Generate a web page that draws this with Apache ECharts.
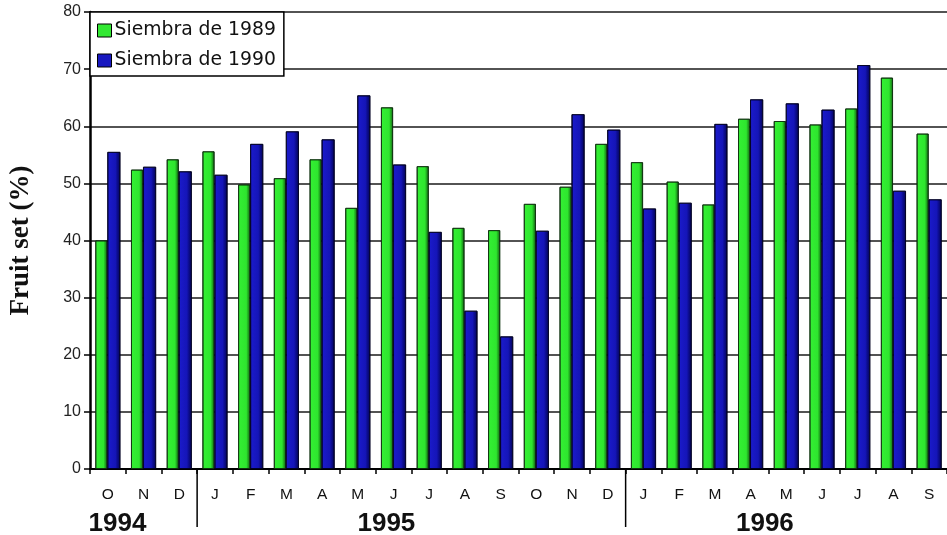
<!DOCTYPE html>
<html>
<head>
<meta charset="utf-8">
<script src="https://cdn.jsdelivr.net/npm/echarts@6/dist/echarts.min.js"></script>
<style>
html,body{margin:0;padding:0;background:#fff;}
#chart{width:947px;height:535px;}
</style>
</head>
<body>
<div id="chart"></div>
<script>
// ---- data ----
const months = ['O','N','D','J','F','M','A','M','J','J','A','S','O','N','D','J','F','M','A','M','J','J','A','S'];
const years = ['1994','1995','1996'];
const yearStartIndex = [0, 3, 15];
const seriesNames = ['Siembra de 1989','Siembra de 1990'];
const siembra1989 = [40.0,52.4,54.2,55.6,49.8,50.9,54.2,45.7,63.3,53.0,42.2,41.8,46.4,49.4,56.9,53.7,50.3,46.3,61.3,60.9,60.3,63.1,68.5,58.7];
const siembra1990 = [55.5,52.9,52.1,51.5,56.9,59.1,57.7,65.4,53.3,41.5,27.7,23.2,41.7,62.1,59.4,45.6,46.6,60.4,64.7,64.0,62.9,70.7,48.7,47.2];
const yTicks = {min:0, max:80, interval:10};

const catData = months.map((m, i) => i + ':' + m);

const chart = echarts.init(document.getElementById('chart'));

function grad(stops){
  return new echarts.graphic.LinearGradient(0,0,1,0, stops.map(s=>({offset:s[0], color:s[1]})));
}
const greenFill = grad([[0,'#1f9a1f'],[0.12,'#33ee33'],[0.68,'#2ee62e'],[0.8,'#22b022'],[1,'#156615']]);
const blueFill = grad([[0,'#0a0a70'],[0.12,'#1a1ac8'],[0.62,'#1515b8'],[0.78,'#0c0c8c'],[1,'#040450']]);

chart.setOption({
  animation:false,
  backgroundColor:'#ffffff',
  grid:{left:87, top:12, width:864, bottom:66, show:false},
  legend:{
    orient:'vertical', left:90, top:12,
    data:[
      {name:seriesNames[0], itemStyle:{color:'#33e833', borderColor:'#000', borderWidth:1}},
      {name:seriesNames[1], itemStyle:{color:'#1818c0', borderColor:'#000', borderWidth:1}}
    ],
    icon:'rect', itemWidth:14, itemHeight:13, itemGap:11,
    padding:[9,8,6,7],
    backgroundColor:'#ffffff', borderColor:'#000', borderWidth:1.5, borderRadius:0,
    textStyle:{fontFamily:'DejaVu Sans', fontSize:18.8, color:'#111', padding:[0,0,0,-2]}
  },
  xAxis:{
    type:'category', data:catData,
    axisLine:{show:true, lineStyle:{color:'#000', width:2}},
    axisTick:{show:true, length:5, lineStyle:{color:'#000', width:1.5}},
    axisLabel:{formatter:v=>v.split(':')[1], fontFamily:'Liberation Sans', fontSize:15.5, color:'#111', margin:18, interval:0},
    splitLine:{show:false}
  },
  yAxis:{
    type:'value', min:yTicks.min, max:yTicks.max, interval:yTicks.interval,
    name:'Fruit set (%)', nameLocation:'middle', nameGap:55,
    nameTextStyle:{fontFamily:'Liberation Serif', fontSize:27, fontWeight:'bold', color:'#111'},
    axisLine:{show:true, lineStyle:{color:'#000', width:2.5}},
    axisTick:{show:true, length:6, lineStyle:{color:'#000', width:1.5}},
    axisLabel:{fontFamily:'Liberation Sans', fontSize:16, color:'#222', margin:9},
    splitLine:{show:true, lineStyle:{color:'#1a1a1a', width:1.6}}
  },
  series:[
    {name:seriesNames[0], type:'bar', data:siembra1989, barWidth:12, barGap:'0%',
     itemStyle:{color:greenFill, borderColor:'#0d300d', borderWidth:0.8}},
    {name:seriesNames[1], type:'bar', data:siembra1990, barWidth:13, barGap:'0%',
     itemStyle:{color:blueFill, borderColor:'#000022', borderWidth:0.8}}
  ]
});

// year labels and dividers, placed through the axis scale
const px = i => chart.convertToPixel({xAxisIndex:0}, catData[i]);
const band = px(1) - px(0);
const axisY = chart.convertToPixel({yAxisIndex:0}, 0);
const graphics = [];
yearStartIndex.slice(1).forEach(k=>{
  const x = px(k) - band/2;
  graphics.push({type:'line', shape:{x1:x, y1:axisY, x2:x, y2:axisY+58}, style:{stroke:'#000', lineWidth:1.5}, z:10});
});
const labelCenters = [px(0)+band*0.27, px(8)-band*0.2, px(18)+band*0.4];
years.forEach((y,i)=>{
  graphics.push({type:'text', x:labelCenters[i], y:axisY+55, z:10,
    style:{text:y, fill:'#111', font:'bold 26px "Liberation Sans"', textAlign:'center', textVerticalAlign:'middle'}});
});
chart.setOption({graphic:graphics});
</script>
</body>
</html>
